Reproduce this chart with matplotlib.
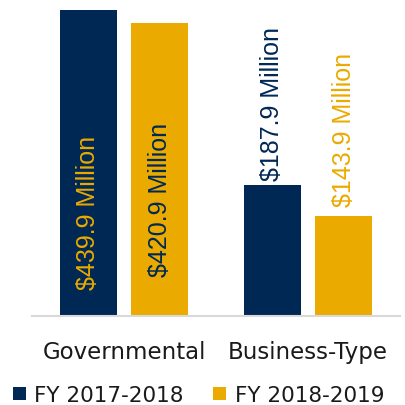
import matplotlib.pyplot as plt
import numpy as np

categories = ["Governmental", "Business-Type"]
series_names = ["FY 2017-2018", "FY 2018-2019"]
fy2018 = [439.9, 187.9]
fy2019 = [420.9, 143.9]
labels_2018 = ["$439.9 Million", "$187.9 Million"]
labels_2019 = ["$420.9 Million", "$143.9 Million"]

navy = "#002855"
gold = "#EAAA00"

fig = plt.figure(figsize=(4.05, 4.06), dpi=100)
# axes placed in figure pixels: baseline at y=317, x from 32 to 400
W, H = 405, 406
ax = fig.add_axes([32 / W, (H - 317) / H, 368 / W, 317 / H])

x = np.arange(len(categories))
w = 0.31
off = 0.194
ax.bar(x - off, fy2018, w, color=navy, label=series_names[0])
ax.bar(x + off, fy2019, w, color=gold, label=series_names[1])

ax.set_xlim(-0.5, 1.5)
ax.set_ylim(0, 455.7)

lab_font = dict(family="Liberation Sans", fontsize=18, rotation=90, ha="center")
# Governmental: labels inside the bars
ax.text(x[0] - off, 149, labels_2018[0], color=gold, va="center", **lab_font)
ax.text(x[0] + off, 168, labels_2019[0], color=navy, va="center", **lab_font)
# Business-Type: labels above the bars
ax.text(x[1] - off, fy2018[1] + 7, labels_2018[1], color=navy, va="bottom", **lab_font)
ax.text(x[1] + off, fy2019[1] + 14, labels_2019[1], color=gold, va="bottom", **lab_font)

for s in ["top", "right", "left"]:
    ax.spines[s].set_visible(False)
ax.spines["bottom"].set_color("#d9d9d9")
ax.spines["bottom"].set_linewidth(1.5)
ax.set_yticks([])
ax.set_xticks(x)
ax.set_xticklabels(categories, fontsize=16.5, color="#1a1a1a")
ax.tick_params(axis="x", length=0, pad=17)

leg = fig.legend(loc="lower center", bbox_to_anchor=(0.49, -0.048), ncol=2, frameon=False,
                 fontsize=15.5, handlelength=0.6, handleheight=0.6, handletextpad=0.4,
                 columnspacing=1.35)
for t in leg.get_texts():
    t.set_color("#1a1a1a")

fig.savefig("out.png", dpi=100)
